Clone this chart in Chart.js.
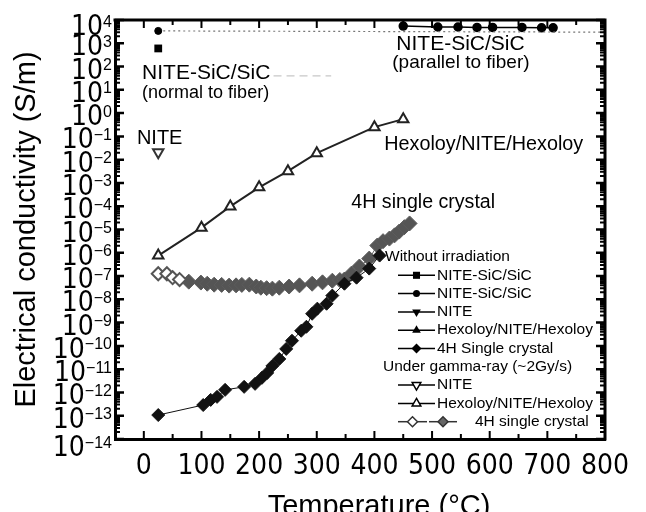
<!DOCTYPE html>
<html>
<head>
<meta charset="utf-8">
<script src="https://cdn.jsdelivr.net/npm/chart.js@4.4.0/dist/chart.umd.min.js"></script>
<style>
html,body{margin:0;padding:0;background:#fff;}
#wrap{width:646px;height:512px;position:relative;}
</style>
</head>
<body>
<div id="wrap"><canvas id="c" width="646" height="512"></canvas></div>
<script>
// ---- tick labels ----
const xTickValues = [0, 100, 200, 300, 400, 500, 600, 700, 800];
const yExponents = [-14, -13, -12, -11, -10, -9, -8, -7, -6, -5, -4, -3, -2, -1, 0, 1, 2, 3, 4];

// ---- Without irradiation ----
const normalX = [25];
const normalY = [600];
const normalGuideX = [225, 325];
const normalGuideY = [40, 40];
const parallelRtX = [25];
const parallelRtY = [3400];
const parallelGuideX = [25, 800];
const parallelGuideY = [3400, 3000];
const parallelX = [450, 510, 545, 578, 605, 656, 690, 710];
const parallelY = [5500, 5000, 5000, 4800, 4800, 4800, 4600, 4600];
const crystalX = [25, 103, 116, 127, 141, 174, 193, 205, 214, 223, 235, 247, 257, 273, 282, 292, 301, 317, 327, 348, 369, 391, 409];
const crystalY = [1.07e-13, 2.88e-13, 4.79e-13, 6.46e-13, 1.29e-12, 1.74e-12, 2.34e-12, 4.27e-12, 6.92e-12, 1.38e-11, 2.75e-11, 7.41e-11, 1.66e-10, 4.47e-10, 6.61e-10, 2.40e-9, 3.98e-9, 6.46e-9, 1.45e-8, 4.68e-8, 8.51e-8, 2.09e-7, 7.59e-7];

// ---- Under gamma-ray ----
const niteGammaX = [25];
const niteGammaY = [2.1e-2];
const hexGammaX = [25, 100, 150, 200, 250, 300, 400, 450];
const hexGammaY = [7.6e-7, 1.2e-5, 9.8e-5, 6.5e-4, 3.2e-3, 1.9e-2, 0.25, 0.55];
const crystalGammaOpenX = [25, 40, 50, 62];
const crystalGammaOpenY = [1.26e-7, 1.26e-7, 8.5e-8, 7.08e-8];
const crystalGammaX = [78, 99, 110, 122, 135, 148, 160, 170, 183, 195, 203, 213, 223, 235, 252, 270, 292, 310, 327, 340, 348, 360, 374, 391, 405, 415, 426, 435, 443, 452, 461];
const crystalGammaY = [5.75e-8, 5.25e-8, 4.68e-8, 4.27e-8, 4.17e-8, 3.89e-8, 3.98e-8, 4.17e-8, 4.27e-8, 3.55e-8, 3.16e-8, 3.02e-8, 2.88e-8, 3.16e-8, 3.55e-8, 3.98e-8, 4.68e-8, 5.37e-8, 6.31e-8, 6.76e-8, 7.08e-8, 1.26e-7, 2.57e-7, 5.62e-7, 2.04e-6, 3.16e-6, 4.07e-6, 5.62e-6, 8.13e-6, 1.26e-5, 1.82e-5];

// ---- in-plot labels (anchored in data coordinates: temperature, conductivity) ----
const annotations = [
  {text: 'NITE-SiC/SiC', x: -3, y: Math.pow(10, 1.72), size: 21},
  {text: '(normal to fiber)', x: -3, y: Math.pow(10, 0.86), size: 18},
  {text: 'NITE', x: -12, y: Math.pow(10, -1.08), size: 20},
  {text: 'NITE-SiC/SiC', x: 438, y: Math.pow(10, 2.97), size: 21},
  {text: '(parallel to fiber)', x: 431, y: Math.pow(10, 2.15), size: 19},
  {text: 'Hexoloy/NITE/Hexoloy', x: 417, y: Math.pow(10, -1.34), size: 19.8},
  {text: '4H single crystal', x: 360, y: Math.pow(10, -3.84), size: 19.6}
];

const legendRows = [
  {header: 'Without irradiation'},
  {text: 'NITE-SiC/SiC', style: 'rect', r: 5, fill: '#000'},
  {text: 'NITE-SiC/SiC', style: 'circle', r: 3.5, fill: '#000'},
  {text: 'NITE', style: 'triangle', rot: 180, r: 5, fill: '#000'},
  {text: 'Hexoloy/NITE/Hexoloy', style: 'triangle', rot: 0, r: 5, fill: '#000'},
  {text: '4H Single crystal', style: 'rectRot', r: 5, fill: '#000'},
  {header: 'Under gamma-ray (~2Gy/s)'},
  {text: 'NITE', style: 'triangle', rot: 180, r: 5, fill: '#fff'},
  {text: 'Hexoloy/NITE/Hexoloy', style: 'triangle', rot: 0, r: 5, fill: '#fff'},
  {text: '4H single crystal', style: 'rectRot', r: 5, fill: '#fff', second: true}
];

const zip = (xs, ys) => xs.map((x, i) => ({x: x, y: ys[i]}));
const SANS = '"Liberation Sans", Arial, "DejaVu Sans", sans-serif';
const NARROW = '"Liberation Sans Narrow", "DejaVu Sans Condensed", "Liberation Sans", sans-serif';

const decor = {
  id: 'decor',
  afterDatasetsDraw(chart) {
    const {ctx, chartArea: a, scales: {x, y}} = chart;
    ctx.save();
    ctx.strokeStyle = '#000';
    ctx.lineWidth = 3;
    ctx.beginPath();
    ctx.moveTo(a.left - 1.5, a.top);
    ctx.lineTo(a.right, a.top);
    ctx.lineTo(a.right, a.bottom + 1.5);
    ctx.stroke();
    ctx.lineWidth = 2;
    x.ticks.forEach(t => {
      const px = x.getPixelForValue(t.value);
      if (px <= a.left + 2 || px >= a.right - 2) return;
      const L = (t.value % 100 === 0) ? 8 : 5;
      ctx.beginPath();
      ctx.moveTo(px, a.bottom); ctx.lineTo(px, a.bottom - L);
      ctx.moveTo(px, a.top); ctx.lineTo(px, a.top + L);
      ctx.stroke();
    });
    yExponents.forEach(e => {
      for (let m = 1; m <= 9; m++) {
        if (e === yExponents[yExponents.length - 1] && m > 1) break;
        const py = y.getPixelForValue(m * Math.pow(10, e));
        const L = m === 1 ? 9 : 5;
        ctx.lineWidth = m === 1 ? 2.5 : 2;
        ctx.beginPath();
        ctx.moveTo(a.left, py); ctx.lineTo(a.left + L, py);
        ctx.moveTo(a.right, py); ctx.lineTo(a.right - L, py);
        ctx.stroke();
      }
    });
    ctx.restore();
  },
  afterDraw(chart) {
    const {ctx, chartArea: a, scales: {x, y}} = chart;
    ctx.save();
    ctx.fillStyle = '#000';
    yExponents.forEach((e, i) => {
      const off = i === yExponents.length - 1 ? 5 : (i === 0 ? 7 : 2);
      const cy = y.getPixelForValue(Math.pow(10, e)) + off;
      const sup = e < 0 ? '\u2212' + (-e) : String(e);
      ctx.font = '16px ' + SANS;
      const sw = ctx.measureText(sup).width;
      const right = a.left - 3;
      const base = cy + 10;
      ctx.font = '28px ' + NARROW;
      ctx.textAlign = 'right';
      ctx.textBaseline = 'alphabetic';
      ctx.fillText('10', right - sw, base);
      ctx.font = '16px ' + SANS;
      ctx.textAlign = 'left';
      ctx.fillText(sup, right - sw, base - 8.5);
    });
    ctx.font = '29px ' + SANS;
    ctx.textAlign = 'center';
    ctx.textBaseline = 'middle';
    ctx.fillText('Temperature (\u00B0C)', 379, 507);
    ctx.textAlign = 'left';
    annotations.forEach(an => {
      ctx.font = an.size + 'px ' + SANS;
      ctx.fillText(an.text, x.getPixelForValue(an.x), y.getPixelForValue(an.y));
    });
    const lx = 383, ly = 257, rh = 18.3;
    ctx.font = '15.5px ' + SANS;
    ctx.textBaseline = 'middle';
    legendRows.forEach((row, i) => {
      const ry = ly + i * rh;
      ctx.fillStyle = '#000';
      if (row.header) {
        ctx.fillText(row.header, lx + (i === 0 ? 2 : 0), ry);
        return;
      }
      const drawSample = (x0, x1, style, fill, stroke) => {
        ctx.strokeStyle = stroke;
        ctx.lineWidth = 1.5;
        ctx.beginPath(); ctx.moveTo(x0, ry); ctx.lineTo(x1, ry); ctx.stroke();
        ctx.fillStyle = fill;
        Chart.helpers.drawPoint(ctx, {pointStyle: style, radius: row.r, rotation: row.rot || 0, borderWidth: fill === '#000' ? 0 : 1.5}, (x0 + x1) / 2, ry);
      };
      if (row.second) {
        drawSample(398, 427, row.style, '#fff', '#333');
        drawSample(429, 457, row.style, '#666', '#333');
        ctx.fillStyle = '#000';
        ctx.fillText(row.text, 475, ry);
      } else {
        drawSample(398, 435, row.style, row.fill, '#000');
        ctx.fillStyle = '#000';
        ctx.fillText(row.text, 437, ry);
      }
    });
    ctx.restore();
  }
};

const black = '#000';
const chart = new Chart(document.getElementById('c'), {
  type: 'scatter',
  data: {
    datasets: [
      {label: 'NITE-SiC/SiC (normal to fiber)', data: zip(normalX, normalY), pointStyle: 'rect', pointRadius: 5.5, backgroundColor: black, borderColor: black, borderWidth: 0, showLine: false},
      {label: 'normal guide', data: zip(normalGuideX, normalGuideY), showLine: true, borderColor: '#c8c8c8', borderWidth: 1.2, borderDash: [8, 5], pointRadius: 0},
      {label: 'NITE-SiC/SiC (parallel, RT)', data: zip(parallelRtX, parallelRtY), pointStyle: 'circle', pointRadius: 3.5, backgroundColor: black, borderColor: black, showLine: false},
      {label: 'parallel guide', data: zip(parallelGuideX, parallelGuideY), showLine: true, borderColor: '#777', borderWidth: 1.2, borderDash: [2, 3], pointRadius: 0},
      {label: 'NITE-SiC/SiC (parallel to fiber)', data: zip(parallelX, parallelY), pointStyle: 'circle', pointRadius: 4, backgroundColor: black, borderColor: black, borderWidth: 1.5, showLine: true},
      {label: 'NITE (gamma)', data: zip(niteGammaX, niteGammaY), pointStyle: 'triangle', rotation: 180, pointRadius: 6, backgroundColor: '#fff', borderColor: '#333', borderWidth: 2, showLine: false},
      {label: 'Hexoloy/NITE/Hexoloy (gamma)', data: zip(hexGammaX, hexGammaY), pointStyle: 'triangle', pointRadius: 6, backgroundColor: '#fff', borderColor: '#222', borderWidth: 2, showLine: true},
      {label: '4H Single crystal', data: zip(crystalX, crystalY), pointStyle: 'rectRot', pointRadius: 6.5, backgroundColor: '#111', borderColor: '#111', borderWidth: 1, showLine: true},
      {label: '4H single crystal (gamma, open)', data: zip(crystalGammaOpenX, crystalGammaOpenY), pointStyle: 'rectRot', pointRadius: 6.5, backgroundColor: '#fff', borderColor: '#555', borderWidth: 2, showLine: true},
      {label: '4H single crystal (gamma)', data: zip(crystalGammaX, crystalGammaY), pointStyle: 'rectRot', pointRadius: 7.5, backgroundColor: '#555', borderColor: '#5c5c5c', borderWidth: 1, showLine: true}
    ]
  },
  options: {
    responsive: false,
    animation: false,
    devicePixelRatio: 1,
    layout: {padding: {top: 20, right: 41, left: 0, bottom: 0}},
    plugins: {legend: {display: false}, tooltip: {enabled: false}},
    elements: {line: {borderWidth: 1.2, borderColor: '#000', tension: 0}},
    scales: {
      x: {
        type: 'linear', min: -50, max: 800,
        grid: {display: false, drawTicks: false},
        border: {display: true, width: 3, color: '#000'},
        ticks: {
          stepSize: 50, autoSkip: false, maxRotation: 0, padding: 11, color: '#000',
          font: {family: NARROW, size: 28},
          callback: v => xTickValues.includes(v) ? String(v) : ''
        },
        title: {display: false},
        afterFit: s => { s.height = 73; }
      },
      y: {
        type: 'logarithmic', min: 1e-14, max: 1e4,
        grid: {display: false, drawTicks: false},
        border: {display: true, width: 3, color: '#000'},
        ticks: {display: false},
        title: {display: true, text: 'Electrical conductivity (S/m)', color: '#000', font: {family: SANS, size: 29, lineHeight: 1}, padding: {top: 12, bottom: 0}},
        afterFit: s => { s.width = 115; }
      }
    }
  },
  plugins: [decor]
});
</script>
</body>
</html>
